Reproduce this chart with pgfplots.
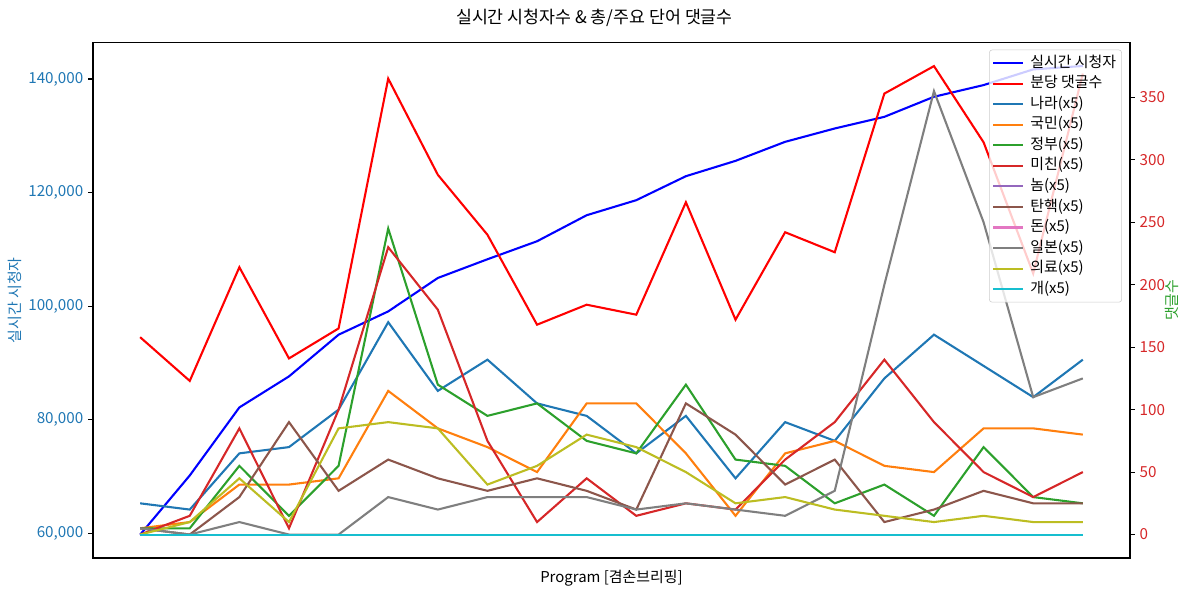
\documentclass[border=0pt]{standalone}
\usepackage{pgfplots}
\usepackage{pgfplotstable}
\pgfplotsset{compat=1.18}
\usepackage{fontspec}
\setmainfont{Noto Sans CJK KR}
\definecolor{tabblue}{HTML}{1F77B4}
\definecolor{taborange}{HTML}{FF7F0E}
\definecolor{tabgreen}{HTML}{2CA02C}
\definecolor{tabred}{HTML}{D62728}
\definecolor{tabpurple}{HTML}{9467BD}
\definecolor{tabbrown}{HTML}{8C564B}
\definecolor{tabpink}{HTML}{E377C2}
\definecolor{tabgray}{HTML}{7F7F7F}
\definecolor{tabolive}{HTML}{BCBD22}
\definecolor{tabcyan}{HTML}{17BECF}
\pgfplotstableread{
x v c nara gukmin jeongbu michin nom tanhaek don ilbon uiryo gae
0 59800 158 25 5 5 0 0 5 0 5 0 0
1 70220 123 20 10 5 15 0 0 0 0 10 0
2 82200 214 65 40 55 85 0 30 0 10 45 0
3 87660 141 70 40 15 5 0 90 0 0 10 0
4 95000 165 100 45 55 100 0 35 0 0 85 0
5 99100 365 170 115 245 230 0 60 0 30 90 0
6 104985 288 115 85 120 180 0 45 0 20 85 0
7 108280 240 140 70 95 75 0 35 0 30 40 0
8 111450 168 105 50 105 10 0 45 0 30 55 0
9 116030 184 95 105 75 45 0 35 0 30 80 0
10 118680 176 65 105 65 15 0 20 0 20 70 0
11 122900 266 95 65 120 25 0 105 0 25 50 0
12 125600 172 45 15 60 20 0 80 0 20 25 0
13 128950 242 90 65 55 60 0 40 0 15 30 0
14 131300 226 75 75 25 90 0 60 0 35 20 0
15 133350 353 125 55 40 140 0 10 0 200 15 0
16 136880 375 160 50 15 90 0 20 0 355 10 0
17 138940 314 135 85 70 50 0 35 0 250 15 0
18 141700 209 110 85 30 30 0 25 0 110 10 0
19 142300 369 140 80 25 50 0 25 0 125 10 0
}\datatable
\begin{document}
\begin{tikzpicture}
\path[use as bounding box] (0,0) rectangle (856.08bp,426.24bp);
\node[font=\fontsize{12.5}{14}\selectfont] at (428bp,413.3bp) {실시간 시청자수 \& 총/주요 단어 댓글수};
\begin{axis}[
  at={(66.96bp,24.5bp)}, anchor=south west,
  scale only axis, width=746.6bp, height=371bp,
  xmin=-0.95, xmax=19.95,
  ymin=55700, ymax=146400,
  xtick=\empty,
  ytick={60000,80000,100000,120000,140000},
  yticklabels={{60,000},{80,000},{100,000},{120,000},{140,000}},
  ytick pos=left,
  tick align=outside,
  major tick length=3.5bp,
  tick style={black, line width=0.8bp},
  axis line style={line width=0.8bp},
  scaled y ticks=false,
  yticklabel style={text=tabblue, font=\fontsize{11}{13}\selectfont},
  xlabel={Program [겸손브리핑]},
  xlabel style={font=\fontsize{10.8}{12}\selectfont, at={(axis description cs:0.5,0)}, anchor=north, yshift=-5bp},
  ylabel={실시간 시청자},
  every axis y label/.style={at={(axis description cs:-0.0752,0.5)}, rotate=90, anchor=center, font=\fontsize{10.8}{12}\selectfont, text=tabblue},
]
\addplot[blue, line width=1.5bp] table[x=x,y=v]{\datatable};
\end{axis}
\begin{axis}[
  at={(66.96bp,24.5bp)}, anchor=south west,
  scale only axis, width=746.6bp, height=371bp,
  xmin=-0.95, xmax=19.95,
  ymin=-18.75, ymax=393.75,
  axis x line=none,
  axis y line*=right,
  ytick={0,50,100,150,200,250,300,350},
  yticklabels={0,50,100,150,200,250,300,350},
  tick align=outside,
  major tick length=3.5bp,
  tick style={black, line width=0.8bp},
  axis line style={line width=0.8bp},
  yticklabel style={text=tabred, font=\fontsize{11}{13}\selectfont},
  ylabel={댓글수},
  every axis y label/.style={at={(axis description cs:1.0405,0.5)}, rotate=90, anchor=center, font=\fontsize{10.8}{12}\selectfont, text=tabgreen},
  legend cell align=left,
  legend image code/.code={\draw[#1] (0bp,0bp) -- (21.6bp,0bp); \path (24bp,0bp);},
  legend style={at={(0.9923,0.9864)}, anchor=north east, font=\fontsize{10.8}{12}\selectfont,
    fill=white, fill opacity=0.8, draw opacity=1, text opacity=1, draw=black!20, rounded corners=2bp,
    row sep=0pt, inner xsep=2bp, inner ysep=2bp,
    nodes={text height=8.6bp, text depth=2.6bp, inner ysep=1.8bp}},
]
\addlegendimage{blue, line width=1.5bp}
\addlegendentry{실시간 시청자}
\addplot[red, line width=1.5bp] table[x=x,y=c]{\datatable};
\addlegendentry{분당 댓글수}
\addplot[tabblue, line width=1.5bp] table[x=x,y=nara]{\datatable};
\addlegendentry{나라(x5)}
\addplot[taborange, line width=1.5bp] table[x=x,y=gukmin]{\datatable};
\addlegendentry{국민(x5)}
\addplot[tabgreen, line width=1.5bp] table[x=x,y=jeongbu]{\datatable};
\addlegendentry{정부(x5)}
\addplot[tabred, line width=1.5bp] table[x=x,y=michin]{\datatable};
\addlegendentry{미친(x5)}
\addplot[tabpurple, line width=1.5bp] table[x=x,y=nom]{\datatable};
\addlegendentry{놈(x5)}
\addplot[tabbrown, line width=1.5bp] table[x=x,y=tanhaek]{\datatable};
\addlegendentry{탄핵(x5)}
\addplot[tabpink, line width=1.5bp] table[x=x,y=don]{\datatable};
\addlegendentry{돈(x5)}
\addplot[tabgray, line width=1.5bp] table[x=x,y=ilbon]{\datatable};
\addlegendentry{일본(x5)}
\addplot[tabolive, line width=1.5bp] table[x=x,y=uiryo]{\datatable};
\addlegendentry{의료(x5)}
\addplot[tabcyan, line width=1.5bp] table[x=x,y=gae]{\datatable};
\addlegendentry{개(x5)}
\end{axis}
\end{tikzpicture}
\end{document}
